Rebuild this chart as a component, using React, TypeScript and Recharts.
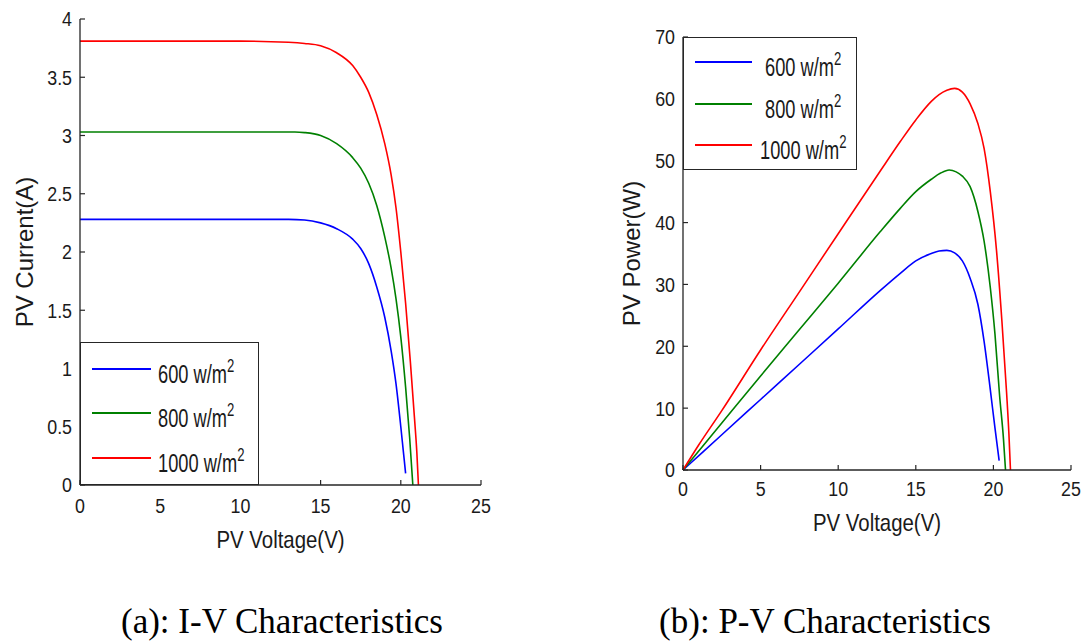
import React from 'react';
import { LineChart, Line, XAxis, YAxis, Legend, Label } from 'recharts';

// ---------- data ----------
const IRRADIANCE = [600, 800, 1000];
const COLORS = ['#0000ff', '#008000', '#ff0000'];

const V_TICKS = [0, 5, 10, 15, 20, 25];
const I_TICKS = [0, 0.5, 1, 1.5, 2, 2.5, 3, 3.5, 4];
const P_TICKS = [0, 10, 20, 30, 40, 50, 60, 70];

// I-V characteristics (voltage V, current A)
const IV_V_600 = [0, 13, 14, 15, 16, 17, 17.5, 18, 18.5, 19, 19.4, 19.7, 20, 20.15, 20.3];
const IV_I_600 = [2.28, 2.28, 2.275, 2.25, 2.2, 2.11, 2.03, 1.9, 1.7, 1.44, 1.15, 0.87, 0.5, 0.3, 0.1];

const IV_V_800 = [0, 13.4, 14, 15, 16, 17, 17.5, 18, 18.5, 19, 19.4, 19.7, 20, 20.3, 20.55, 20.75];
const IV_I_800 = [3.03, 3.03, 3.025, 3.0, 2.93, 2.81, 2.72, 2.59, 2.4, 2.13, 1.86, 1.6, 1.27, 0.84, 0.41, 0.0];

const IV_V_1000 = [0, 10, 13, 14, 15, 16, 17, 17.5, 18, 18.5, 19, 19.4, 19.7, 20, 20.3, 20.6, 20.85, 21.0, 21.1];
const IV_I_1000 = [3.81, 3.81, 3.8, 3.79, 3.77, 3.71, 3.6, 3.5, 3.37, 3.18, 2.93, 2.66, 2.38, 2.0, 1.56, 1.05, 0.58, 0.28, 0.0];

// P-V characteristics (voltage V, power W)
const PV_V_600 = [0, 2.5, 5, 7.5, 10, 12.7, 14, 15, 16, 16.5, 17, 17.5, 18, 18.5, 19, 19.4, 19.8, 20.1, 20.37];
const PV_P_600 = [0, 5.7, 11.4, 17.1, 22.8, 29.0, 31.8, 33.8, 35.0, 35.4, 35.5, 35.1, 33.8, 31.0, 26.8, 20.8, 13.0, 6.8, 1.5];

const PV_V_800 = [0, 2.5, 5, 7.5, 10, 12.7, 14, 15, 16, 16.6, 17.15, 17.6, 18, 18.5, 19, 19.4, 19.8, 20.1, 20.4, 20.65, 20.78];
const PV_P_800 = [0, 7.6, 15.2, 22.7, 30.2, 38.5, 42.3, 45.0, 47.0, 48.0, 48.5, 48.2, 47.5, 45.8, 41.8, 37.0, 29.5, 22.0, 12.0, 5.0, 0];

const PV_V_1000 = [0, 1, 2.5, 5, 7.5, 10, 12.7, 14, 15, 16, 16.5, 17, 17.5, 18, 18.5, 19, 19.4, 19.8, 20.2, 20.55, 20.85, 21.0, 21.1];
const PV_P_1000 = [0, 4, 9.6, 19.4, 28.8, 38.2, 48.3, 53.1, 56.6, 59.6, 60.7, 61.4, 61.7, 61.1, 59.2, 56.0, 52.0, 45.0, 35.5, 24.0, 12.5, 5.8, 0];

// ---------- helpers ----------
const SANS = "'Liberation Sans', Arial, sans-serif";
const AXIS = '#262626';
const TEXT = '#1a1a1a';

const toPoints = (xs: number[], ys: number[]) => xs.map((x, i) => ({ x, y: ys[i] }));

const IV_SERIES = [toPoints(IV_V_600, IV_I_600), toPoints(IV_V_800, IV_I_800), toPoints(IV_V_1000, IV_I_1000)];
const PV_SERIES = [toPoints(PV_V_600, PV_P_600), toPoints(PV_V_800, PV_P_800), toPoints(PV_V_1000, PV_P_1000)];

type LegendCfg = { width: number; height: number; lineX: number; lineW: number; textX: number[]; rows: number[] };

const makeLegend = (cfg: LegendCfg) => () => (
  <div
    style={{
      position: 'relative',
      width: cfg.width,
      height: cfg.height,
      boxSizing: 'border-box',
      border: `1.5px solid ${AXIS}`,
      background: '#fff',
    }}
  >
    {IRRADIANCE.map((irr, i) => (
      <div key={i} style={{ position: 'absolute', left: 0, top: cfg.rows[i], height: 0, width: '100%' }}>
        <div
          style={{
            position: 'absolute',
            left: cfg.lineX,
            top: -1,
            width: cfg.lineW,
            height: 2,
            background: COLORS[i],
          }}
        />
        <div
          style={{
            position: 'absolute',
            left: cfg.textX[i],
            top: -9,
            fontFamily: SANS,
            fontSize: 25,
            lineHeight: '28px',
            whiteSpace: 'nowrap',
            color: TEXT,
            transform: 'scaleX(0.73)',
            transformOrigin: 'left center',
          }}
        >
          {irr} w/m
          <span style={{ position: 'relative', top: -11, fontSize: 18 }}>2</span>
        </div>
      </div>
    ))}
  </div>
);

const narrow = (origin: string) => ({
  transformBox: 'fill-box',
  transformOrigin: origin,
  transform: 'scaleX(0.85)',
});

const xTick = { fill: TEXT, fontSize: 21, fontFamily: SANS, style: narrow('center') };
const yTick = { fill: TEXT, fontSize: 21, fontFamily: SANS, style: narrow('right center') };
const xTitleStyle = { fontFamily: SANS, fontSize: 24, fill: TEXT, ...narrow('center') };
const yTitleStyle = { fontFamily: SANS, fontSize: 24, fill: TEXT };
const axisLine = { stroke: AXIS, strokeWidth: 1.3 };
const tickLine = { stroke: AXIS, strokeWidth: 1.2 };
const blank = () => '';

export default function App() {
  return (
    <div style={{ position: 'absolute', left: 0, top: 0, width: 1083, height: 641, background: '#fff', overflow: 'hidden' }}>
      {/* (a) I-V */}
      <div style={{ position: 'absolute', left: 0, top: 0 }}>
        <LineChart width={500} height={560} margin={{ top: 19, right: 19, bottom: 0, left: 0 }}>
          <XAxis
            xAxisId="b"
            type="number"
            dataKey="x"
            domain={[0, 25]}
            ticks={V_TICKS}
            interval={0}
            height={75}
            tickSize={-5}
            tickMargin={18}
            axisLine={axisLine}
            tickLine={tickLine}
            tick={xTick}
          >
            <Label value="PV Voltage(V)" position="center" dy={17} style={xTitleStyle} />
          </XAxis>
          <XAxis
            xAxisId="t"
            orientation="top"
            type="number"
            dataKey="x"
            domain={[0, 25]}
            ticks={V_TICKS}
            interval={0}
            height={0}
            tickSize={-5}
            tickFormatter={blank}
            axisLine={axisLine}
            tickLine={tickLine}
          />
          <YAxis
            yAxisId="l"
            type="number"
            domain={[0, 4]}
            ticks={I_TICKS}
            interval={0}
            width={80}
            tickSize={-5}
            tickMargin={13}
            axisLine={axisLine}
            tickLine={tickLine}
            tick={yTick}
          >
            <Label value="PV Current(A)" angle={-90} position="center" dx={-16} style={yTitleStyle} />
          </YAxis>
          <YAxis
            yAxisId="r"
            orientation="right"
            type="number"
            domain={[0, 4]}
            ticks={I_TICKS}
            interval={0}
            width={0}
            tickSize={-5}
            tickFormatter={blank}
            axisLine={axisLine}
            tickLine={tickLine}
          />
          <Legend
            layout="vertical"
            align="center"
            verticalAlign="middle"
            content={makeLegend({ width: 179, height: 143, lineX: 11, lineW: 59, textX: [77, 77, 77], rows: [26, 70, 115] })}
            wrapperStyle={{ left: 80, top: 342, width: 179, height: 143 }}
          />
          {IV_SERIES.map((d, i) => (
            <Line
              key={i}
              xAxisId="b"
              yAxisId="l"
              data={d}
              dataKey="y"
              name={`${IRRADIANCE[i]} w/m2`}
              stroke={COLORS[i]}
              strokeWidth={1.6}
              dot={false}
              type="monotone"
              isAnimationActive={false}
            />
          ))}
        </LineChart>
      </div>

      {/* (b) P-V */}
      <div style={{ position: 'absolute', left: 600, top: 0 }}>
        <LineChart width={483} height={560} margin={{ top: 37, right: 12, bottom: 0, left: 0 }}>
          <XAxis
            xAxisId="b"
            type="number"
            dataKey="x"
            domain={[0, 25]}
            ticks={V_TICKS}
            interval={0}
            height={90}
            tickSize={-5}
            tickMargin={16}
            axisLine={axisLine}
            tickLine={tickLine}
            tick={xTick}
          >
            <Label value="PV Voltage(V)" position="center" dy={7} style={xTitleStyle} />
          </XAxis>
          <XAxis
            xAxisId="t"
            orientation="top"
            type="number"
            dataKey="x"
            domain={[0, 25]}
            ticks={V_TICKS}
            interval={0}
            height={0}
            tickSize={-5}
            tickFormatter={blank}
            axisLine={axisLine}
            tickLine={tickLine}
          />
          <YAxis
            yAxisId="l"
            type="number"
            domain={[0, 70]}
            ticks={P_TICKS}
            interval={0}
            width={83}
            tickSize={-5}
            tickMargin={13}
            axisLine={axisLine}
            tickLine={tickLine}
            tick={yTick}
          >
            <Label value="PV Power(W)" angle={-90} position="center" dx={-10} style={yTitleStyle} />
          </YAxis>
          <YAxis
            yAxisId="r"
            orientation="right"
            type="number"
            domain={[0, 70]}
            ticks={P_TICKS}
            interval={0}
            width={0}
            tickSize={-5}
            tickFormatter={blank}
            axisLine={axisLine}
            tickLine={tickLine}
          />
          <Legend
            layout="vertical"
            align="center"
            verticalAlign="middle"
            content={makeLegend({ width: 174, height: 133, lineX: 11, lineW: 57, textX: [81, 81, 76], rows: [24, 66, 107] })}
            wrapperStyle={{ left: 83, top: 37, width: 174, height: 133 }}
          />
          {PV_SERIES.map((d, i) => (
            <Line
              key={i}
              xAxisId="b"
              yAxisId="l"
              data={d}
              dataKey="y"
              name={`${IRRADIANCE[i]} w/m2`}
              stroke={COLORS[i]}
              strokeWidth={1.6}
              dot={false}
              type="monotone"
              isAnimationActive={false}
            />
          ))}
        </LineChart>
      </div>

      {/* captions */}
      <svg width={1083} height={641} style={{ position: 'absolute', left: 0, top: 0, pointerEvents: 'none' }}>
        <text x={282} y={633} textAnchor="middle" fontFamily="'Liberation Serif', 'Times New Roman', serif" fontSize={35} fill="#000">
          (a): I-V Characteristics
        </text>
        <text x={825} y={633} textAnchor="middle" fontFamily="'Liberation Serif', 'Times New Roman', serif" fontSize={35} fill="#000">
          (b): P-V Characteristics
        </text>
      </svg>
    </div>
  );
}
